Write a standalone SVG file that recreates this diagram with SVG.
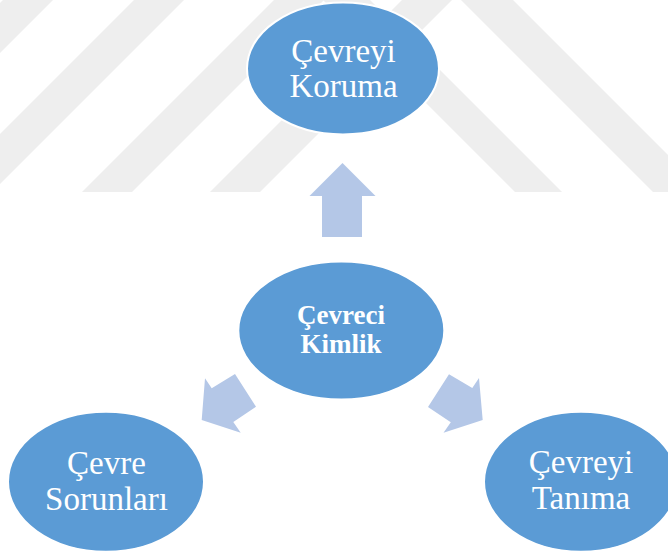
<svg xmlns="http://www.w3.org/2000/svg" width="668" height="556" viewBox="0 0 668 556">
  <style>
    .stripe { fill: #EEEEEE; }
    .node { fill: #5B9BD5; stroke: #FFFFFF; stroke-width: 2; }
    .lbl { font-family: "Liberation Serif", "Times New Roman", serif; font-size: 33px; fill: #FFFFFF; text-anchor: middle; }
    .lbl-b { font-family: "Liberation Serif", "Times New Roman", serif; font-size: 27px; font-weight: bold; fill: #FFFFFF; text-anchor: middle; }
    .arrow { fill: #B4C7E7; }
  </style>
  <rect x="0" y="0" width="668" height="556" fill="#FFFFFF"/>
  <g id="watermark">
    <polygon class="stripe" points="3,0 53,0 -139,192 -189,192"/>
    <polygon class="stripe" points="134,0 184,0 -8,192 -58,192"/>
    <polygon class="stripe" points="274,0 324,0 132,192 82,192"/>
    <polygon class="stripe" points="402,0 452,0 260,192 210,192"/>
    <polygon class="stripe" points="323,0 370,0 562,192 515,192"/>
    <polygon class="stripe" points="461,0 513,0 705,192 653,192"/>
  </g>
  <g id="connectors">
    <polygon class="arrow" points="342.5,163 375.5,196 362,196 362,237 322,237 322,196 309.5,196"/>
    <polygon class="arrow" points="201.7,420 205,378.3 211.7,388.3 235,374 256,406.7 233.3,422 240.7,432.7"/>
    <polygon class="arrow" points="482.7,420 479,378 472.3,388 449,374.2 428,407 450.8,422.3 443.5,432.7"/>
  </g>
  <g id="node-koruma">
    <ellipse class="node" cx="343" cy="68.5" rx="96" ry="66"/>
    <text class="lbl" x="343.5" y="62">Çevreyi</text>
    <text class="lbl" x="343.5" y="97">Koruma</text>
  </g>
  <g id="node-kimlik">
    <ellipse class="node" cx="341.3" cy="330.5" rx="103" ry="69"/>
    <text class="lbl-b" x="341" y="323.5">Çevreci</text>
    <text class="lbl-b" x="341" y="352.5">Kimlik</text>
  </g>
  <g id="node-sorunlari">
    <ellipse class="node" cx="106" cy="481.7" rx="98" ry="70"/>
    <text class="lbl" x="106.5" y="474">Çevre</text>
    <text class="lbl" x="106.5" y="509.5">Sorunları</text>
  </g>
  <g id="node-tanima">
    <ellipse class="node" cx="581" cy="481.7" rx="97" ry="70"/>
    <text class="lbl" x="581" y="473">Çevreyi</text>
    <text class="lbl" x="581" y="508.5">Tanıma</text>
  </g>
</svg>
